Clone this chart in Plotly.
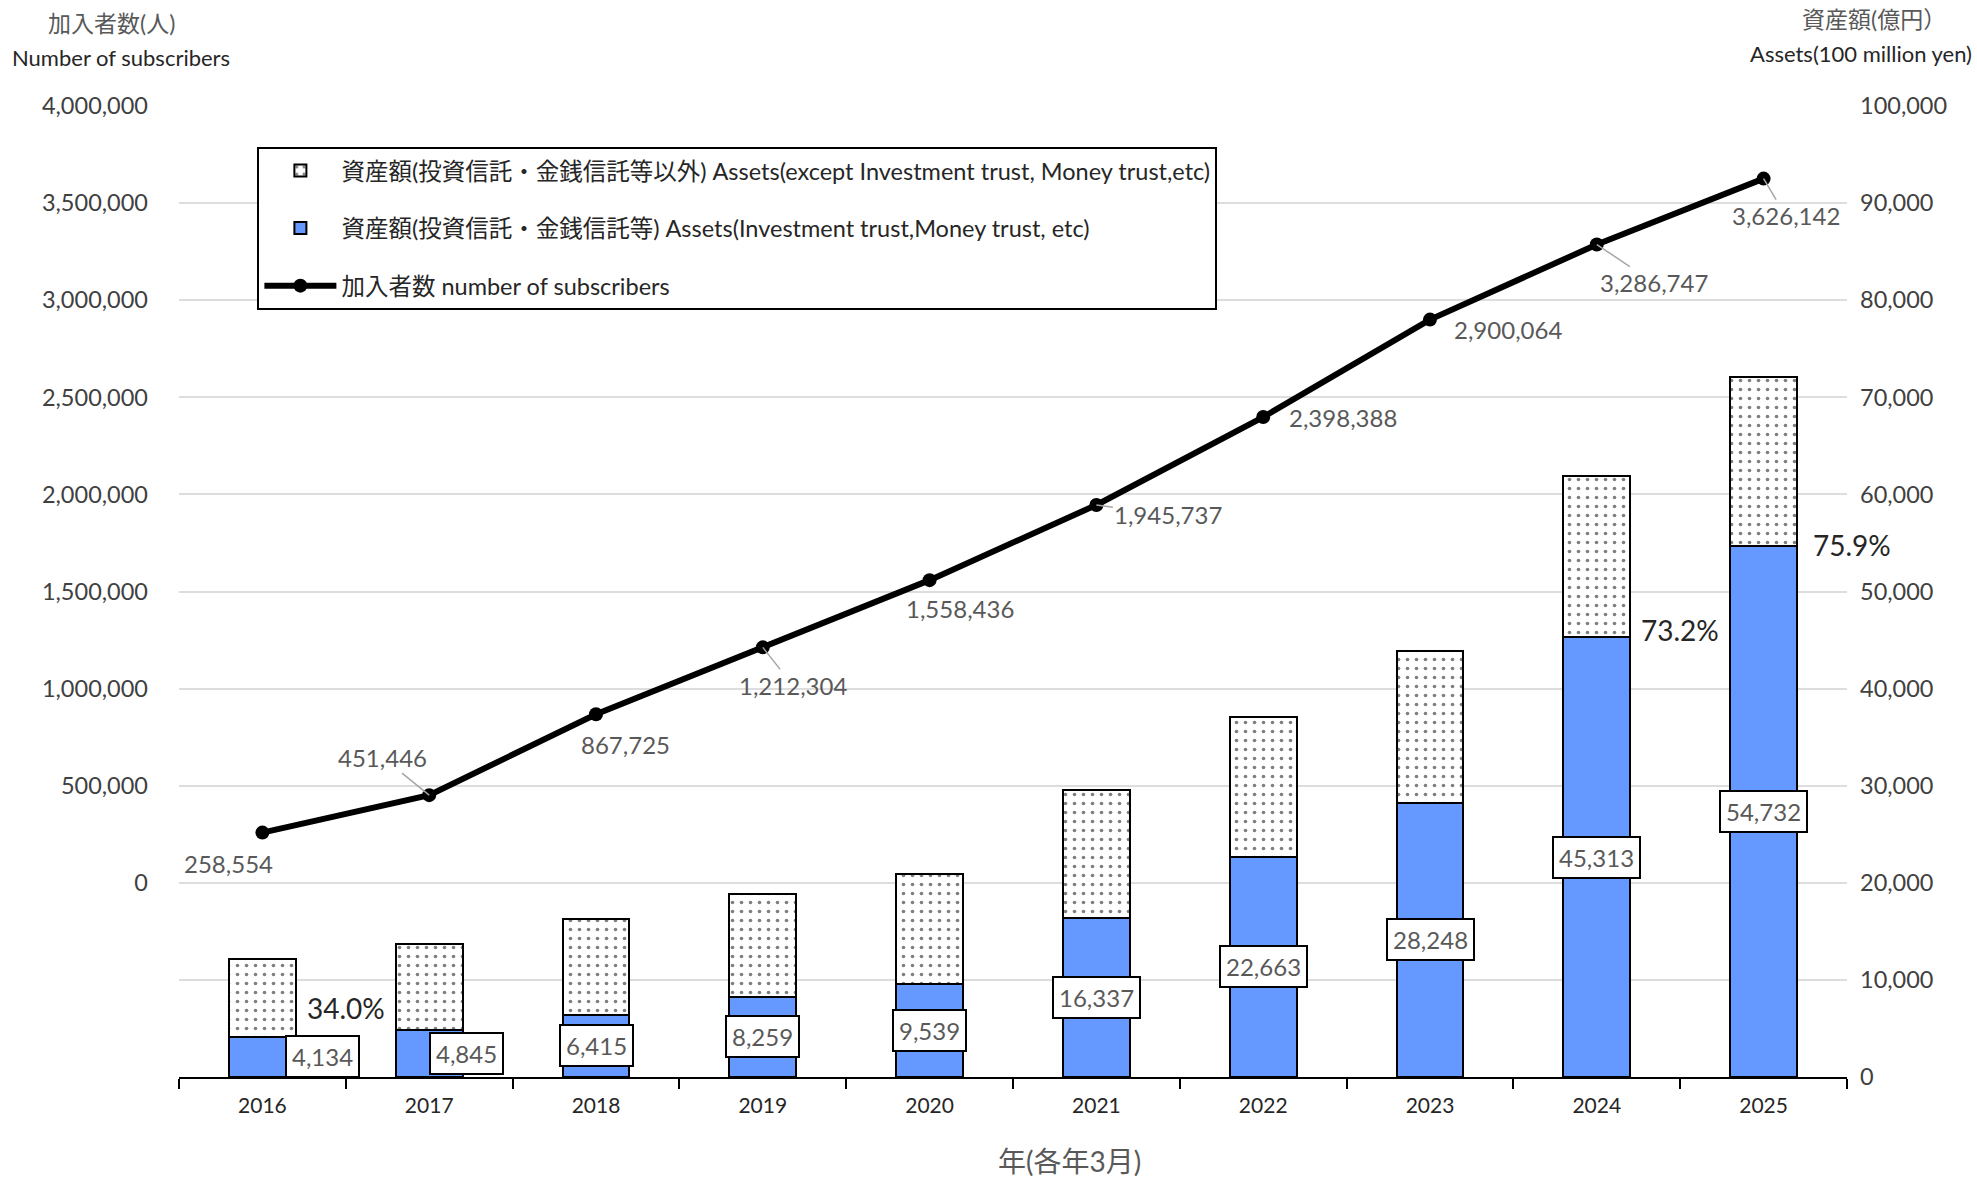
import plotly.graph_objects as go

# ---------------- data ----------------
years = ['2016', '2017', '2018', '2019', '2020', '2021', '2022', '2023', '2024', '2025']
subscribers = [258554, 451446, 867725, 1212304, 1558436, 1945737, 2398388, 2900064, 3286747, 3626142]
assets_trust = [4134, 4845, 6415, 8259, 9539, 16337, 22663, 28248, 45313, 54732]
assets_other = [8025, 8855, 9835, 10621, 11411, 13213, 14437, 15652, 16590, 17379]
pct_years = ['2016', '2024', '2025']

left_ticks = [0, 500000, 1000000, 1500000, 2000000, 2500000, 3000000, 3500000, 4000000]

name_other = '資産額(投資信託・金銭信託等以外) Assets(except Investment trust, Money trust,etc)'
name_trust = '資産額(投資信託・金銭信託等) Assets(Investment trust,Money trust, etc)'
name_subs = '加入者数 number of subscribers'

# ---------------- style ----------------
FONT = "Lato, 'Noto Sans CJK JP', sans-serif"
GRAY_TXT = '#595959'
BLUE = '#6699FF'

# label offsets (pixels) for the subscriber labels: (dx, dy, leader line?)
subs_label_off = [(-34, 31, False), (-47, -38, True), (29, 30, False), (30, 38, True),
                  (30, 28, False), (72, 10, True), (80, 0, False), (78, 10, False),
                  (57, 38, True), (22, 37, True)]
# x shift of the boxed asset labels
trust_label_dx = [60, 37, 0, 0, 0, 0, 0, 0, 0, 0]
# percent label shifts (dx, dy)
pct_off = {'2016': (43, 29), '2024': (42, 7), '2025': (47, 1)}

fig = go.Figure()

fig.add_trace(go.Bar(
    x=years, y=assets_trust, name=name_trust, width=0.4,
    marker=dict(color=BLUE, line=dict(color='black', width=2)),
    legendrank=2, legendgroup='g2', yaxis='y', hoverinfo='skip'))

fig.add_trace(go.Bar(
    x=years, y=assets_other, name=name_other, width=0.4,
    marker=dict(color='white', line=dict(color='black', width=2),
                pattern=dict(shape='.', fgcolor='black', bgcolor='white', size=9, solidity=0.13)),
    legendrank=1, legendgroup='g1', yaxis='y', hoverinfo='skip'))

fig.add_trace(go.Scatter(
    x=years, y=subscribers, name=name_subs, yaxis='y2', mode='lines+markers',
    line=dict(color='black', width=6), marker=dict(color='black', size=14),
    legendrank=3, legendgroup='g3', hoverinfo='skip'))

ann = []
# subscriber labels (x given as category index)
for i, (v, (dx, dy, lead)) in enumerate(zip(subscribers, subs_label_off)):
    txt = f'{v:,}'
    if lead:
        ann.append(dict(x=i, y=v, xref='x', yref='y2', text=txt, showarrow=True,
                        ax=dx, ay=dy, arrowhead=0, arrowwidth=1.5, arrowcolor='#A6A6A6',
                        font=dict(family=FONT, size=24, color=GRAY_TXT)))
    else:
        ann.append(dict(x=i, y=v, xref='x', yref='y2', text=txt, showarrow=False,
                        xanchor='center', yanchor='middle', xshift=dx, yshift=-dy,
                        font=dict(family=FONT, size=24, color=GRAY_TXT)))

# boxed labels for trust assets
for i, (v, dx) in enumerate(zip(assets_trust, trust_label_dx)):
    ann.append(dict(x=i, y=v / 2, xref='x', yref='y', text=f'{v:,}', showarrow=False,
                    xanchor='center', yanchor='middle', xshift=dx,
                    bgcolor='white', bordercolor='black', borderwidth=2, borderpad=5,
                    font=dict(family=FONT, size=24, color=GRAY_TXT)))

# percentage labels
for i, (yr, t, o) in enumerate(zip(years, assets_trust, assets_other)):
    if yr in pct_years:
        dx, dy = pct_off[yr]
        ann.append(dict(x=i, y=t, xref='x', yref='y', text=f'{t / (t + o) * 100:.1f}%',
                        showarrow=False, xanchor='left', yanchor='middle', xshift=dx, yshift=dy,
                        font=dict(family=FONT, size=28, color='#262626')))

W, H = 1977, 1179
ML, MR, MT, MB = 179, 130, 106, 102


def px2paper(xp, yp):
    return (xp - ML) / (W - ML - MR), 1 - (yp - MT) / (H - MT - MB)


titles = [
    (111, 23, '加入者数(人)', 23, GRAY_TXT),
    (121, 58, 'Number of subscribers', 22, '#262626'),
    (1874, 19, '資産額(億円）', 23, GRAY_TXT),
    (1861, 54, 'Assets(100 million yen)', 22, '#262626'),
    (1069, 1161, '年(各年3月)', 28, GRAY_TXT),
]
for xp, yp, txt, sz, col in titles:
    xx, yy = px2paper(xp, yp)
    ann.append(dict(x=xx, y=yy, xref='paper', yref='paper', text=txt, showarrow=False,
                    xanchor='center', yanchor='middle',
                    font=dict(family=FONT, size=sz, color=col)))

fig.update_layout(
    width=W, height=H,
    margin=dict(l=ML, r=MR, t=MT, b=MB),
    paper_bgcolor='white', plot_bgcolor='white',
    barmode='stack', bargap=0.6,
    font=dict(family=FONT, color='#262626'),
    showlegend=True,
    legend=dict(x=0.047, y=0.958, xanchor='left', yanchor='top',
                bgcolor='white', bordercolor='black', borderwidth=2,
                font=dict(family=FONT, size=23.5, color='#262626'),
                traceorder='grouped', tracegroupgap=24, itemwidth=72),
    xaxis=dict(type='category', range=[-0.5, 9.5], showline=True, linecolor='black', linewidth=2,
               ticks='outside', tickson='boundaries', ticklen=10, tickwidth=2, tickcolor='black',
               tickfont=dict(family=FONT, size=21, color='#262626'), showgrid=False,
               ticklabelstandoff=9, fixedrange=True),
    yaxis=dict(side='right', range=[0, 100000], dtick=10000, tickformat=',',
               showgrid=True, gridcolor='#DDDDDD', gridwidth=2, zeroline=False, showline=False,
               tickfont=dict(family=FONT, size=23.5, color='#404040'), ticklabelstandoff=12,
               fixedrange=True),
    yaxis2=dict(side='left', overlaying='y', range=[-1000000, 4000000], tickvals=left_ticks,
                tickformat=',', showgrid=False, zeroline=False, showline=False,
                tickfont=dict(family=FONT, size=23.5, color='#404040'), ticklabelstandoff=30,
                fixedrange=True),
    annotations=ann,
)

fig.write_html('out.html', config={'displayModeBar': False},
               post_script="document.body.style.margin='0';")
